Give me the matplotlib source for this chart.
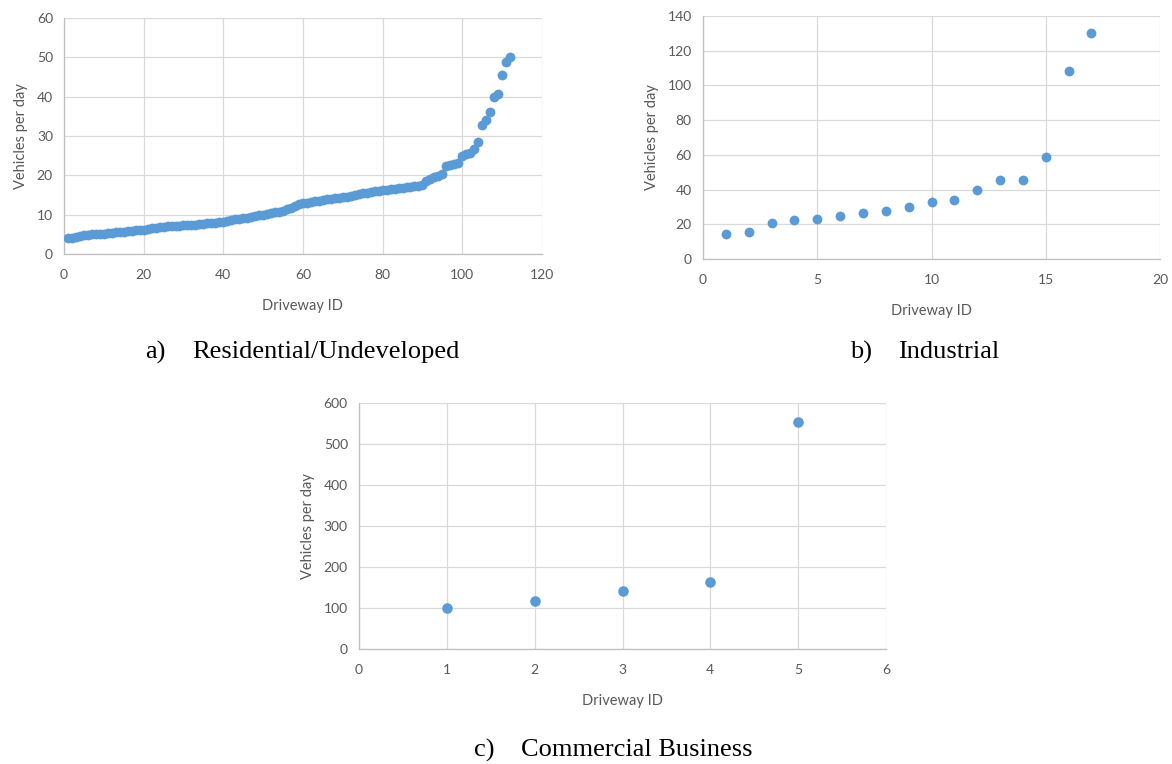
import matplotlib.pyplot as plt

# a) Residential/Undeveloped - vehicles per day, sorted
residential = [4.0, 4.2, 4.4, 4.6, 4.8, 4.9, 5.0, 5.1, 5.1, 5.2,
               5.3, 5.4, 5.5, 5.6, 5.7, 5.8, 5.9, 6.0, 6.1, 6.2,
               6.4, 6.5, 6.7, 6.8, 6.9, 7.0, 7.0, 7.1, 7.2, 7.3,
               7.4, 7.5, 7.5, 7.6, 7.7, 7.8, 7.9, 8.0, 8.1, 8.2,
               8.4, 8.6, 8.8, 8.9, 9.1, 9.2, 9.4, 9.6, 9.8, 10.0,
               10.2, 10.4, 10.6, 10.8, 11.0, 11.4, 11.8, 12.3, 12.7, 12.9,
               13.1, 13.3, 13.4, 13.6, 13.8, 14.0, 14.1, 14.2, 14.3, 14.4,
               14.6, 14.8, 15.0, 15.3, 15.5, 15.6, 15.8, 16.0, 16.1, 16.2,
               16.4, 16.5, 16.6, 16.7, 16.9, 17.0, 17.1, 17.2, 17.4, 17.6,
               18.6, 19.2, 19.5, 19.9, 20.4, 22.4, 22.6, 22.9, 23.2, 25.0,
               25.4, 25.8, 26.6, 28.5, 32.8, 34.2, 36.0, 40.0, 40.6, 45.5,
               48.9, 50.2]
residential_ids = list(range(1, len(residential) + 1))

# b) Industrial
industrial = [14.6, 15.3, 20.7, 22.2, 23.0, 24.9, 26.5, 27.8, 30.1, 33.0,
              33.9, 39.9, 45.3, 45.6, 58.5, 108.1, 130.2]
industrial_ids = list(range(1, len(industrial) + 1))

# c) Commercial Business
commercial = [100, 116, 141, 163, 554]
commercial_ids = list(range(1, len(commercial) + 1))

BLUE = '#5b9bd5'
TXT = '#595959'
GRID = '#d9d9d9'
AXIS = '#bfbfbf'

plt.rcParams['font.family'] = ['Lato', 'DejaVu Sans']

fig = plt.figure(figsize=(11.72, 7.64), dpi=100)


def style(ax, xmax, xstep, ymax, ystep):
    ax.set_xlim(0, xmax)
    ax.set_ylim(0, ymax)
    ax.set_xticks(range(0, xmax + 1, xstep))
    ax.set_yticks(range(0, ymax + 1, ystep))
    ax.grid(True, color=GRID, linewidth=0.9)
    ax.set_axisbelow(True)
    for s in ['top', 'right']:
        ax.spines[s].set_visible(False)
    for s in ['left', 'bottom']:
        ax.spines[s].set_color(AXIS)
        ax.spines[s].set_linewidth(0.9)
    ax.tick_params(length=0, labelsize=10, colors=TXT, pad=8)
    ax.tick_params(axis='x', pad=11)
    ax.set_xlabel('Driveway ID', fontsize=10.5, color=TXT, labelpad=13)
    ax.set_ylabel('Vehicles per day', fontsize=10.5, color=TXT, labelpad=6)


ax1 = fig.add_axes([0.0546, 0.6675, 0.4078, 0.3089])
ax1.scatter(residential_ids, residential, s=50, color=BLUE, zorder=3, linewidths=0)
style(ax1, 120, 20, 60, 10)

ax2 = fig.add_axes([0.5998, 0.661, 0.390, 0.318])
ax2.scatter(industrial_ids, industrial, s=50, color=BLUE, zorder=3, linewidths=0)
style(ax2, 20, 5, 140, 20)

ax3 = fig.add_axes([0.3063, 0.1505, 0.4497, 0.322])
ax3.scatter(commercial_ids, commercial, s=58, color=BLUE, zorder=3, linewidths=0)
style(ax3, 6, 1, 600, 100)

cap = dict(fontsize=19, family='Liberation Serif', color='black', va='center', ha='left')
W, H = 1172, 764
fig.text(145 / W, 1 - 352 / H, 'a)', **cap)
fig.text(192 / W, 1 - 352 / H, 'Residential/Undeveloped', **cap)
fig.text(850 / W, 1 - 352 / H, 'b)', **cap)
fig.text(898 / W, 1 - 352 / H, 'Industrial', **cap)
fig.text(474 / W, 1 - 750 / H, 'c)', **cap)
fig.text(521 / W, 1 - 750 / H, 'Commercial Business', **cap)

fig.savefig('out.png', dpi=100)
